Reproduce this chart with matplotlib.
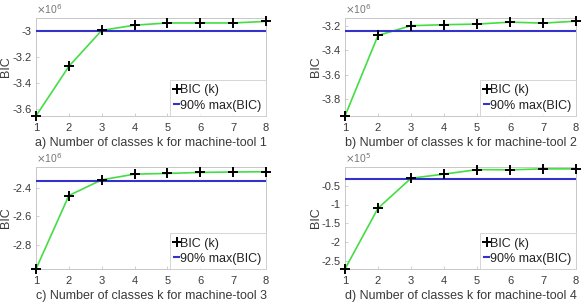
import matplotlib
matplotlib.use("Agg")
import matplotlib.pyplot as plt
from matplotlib.ticker import FuncFormatter
import numpy as np

plt.rcParams['font.family'] = ['Liberation Sans', 'DejaVu Sans']

k = [1, 2, 3, 4, 5, 6, 7, 8]
bic_1 = [-3.65e6, -3.27e6, -2.995e6, -2.955e6, -2.938e6, -2.938e6, -2.938e6, -2.926e6]
bic_2 = [-3.937e6, -3.277e6, -3.197e6, -3.189e6, -3.184e6, -3.168e6, -3.176e6, -3.160e6]
bic_3 = [-2.97e6, -2.455e6, -2.345e6, -2.305e6, -2.300e6, -2.293e6, -2.290e6, -2.288e6]
bic_4 = [-2.72e5, -1.10e5, -0.30e5, -0.19e5, -0.07e5, -0.075e5, -0.05e5, -0.05e5]
series = [bic_1, bic_2, bic_3, bic_4]
scales = [1e6, 1e6, 1e6, 1e5]
exponents = ['6', '6', '6', '5']
yticks = [[-3.6, -3.4, -3.2, -3.0], [-3.8, -3.6, -3.4, -3.2],
          [-2.8, -2.6, -2.4], [-2.5, -2.0, -1.5, -1.0, -0.5]]
ytop = [-2.90, -3.134, -2.255, 0.0]
titles = ['a) Number of classes k for machine-tool 1',
          'b) Number of classes k for machine-tool 2',
          'c) Number of classes k for machine-tool 3',
          'd) Number of classes k for machine-tool 4']
legend_labels = ['BIC (k)', '90% max(BIC)']

W, H = 581, 304
fig = plt.figure(figsize=(W / 100, H / 100), dpi=100)

# axes boxes in pixels: left, top, right, bottom
boxes = [(36, 18, 266, 116), (345, 18, 576, 116),
         (36, 167, 266, 269), (345, 167, 576, 269)]

txt_col = '#3a3a3a'
spine_col = '#c8c8c8'

for i in range(4):
    l, t, r, b = boxes[i]
    ax = fig.add_axes([l / W, 1 - b / H, (r - l) / W, (b - t) / H])
    vals = np.array(series[i])
    thr = vals.min() + 0.9 * (vals.max() - vals.min())
    ax.plot(k, vals, color='#44dd44', lw=1.2, zorder=2)
    ax.plot(k, vals, linestyle='none', marker='+', color='black',
            markersize=7, markeredgewidth=1.4, zorder=4, label=legend_labels[0],
            clip_on=False)
    ax.axhline(thr, color='#3333cc', lw=1.5, zorder=3, label=legend_labels[1])
    sc = scales[i]
    ax.set_xlim(1, 8)
    ax.set_ylim(vals.min(), ytop[i] * sc)
    ax.set_xticks(k)
    ax.set_yticks(np.array(yticks[i]) * sc)
    ax.yaxis.set_major_formatter(FuncFormatter(lambda v, p, s=sc: ('%g' % round(v / s, 3))))
    ax.tick_params(direction='in', length=2.5, width=0.6, colors=spine_col,
                   labelcolor=txt_col, labelsize=8, pad=3)
    ax.tick_params(axis='x', pad=5)
    for sp in ax.spines.values():
        sp.set_color(spine_col)
        sp.set_linewidth(0.7)
    ax.set_xlabel(titles[i], fontsize=9, color=txt_col, labelpad=3)
    ax.set_ylabel('BIC', fontsize=9, color=txt_col)
    ax.yaxis.set_label_coords(-23.5 / (r - l), 0.5)
    ax.text(0.0, 1.02, r'$\times$10$^{%s}$' % exponents[i], transform=ax.transAxes,
            fontsize=7.5, color='#777777', ha='left', va='bottom')
    leg = ax.legend(loc='lower right', fontsize=9, handlelength=0.4, handletextpad=0.1,
                    borderpad=0.35, labelspacing=0.25, frameon=True, fancybox=False,
                    borderaxespad=0.0)
    leg.get_frame().set_edgecolor('#cccccc')
    leg.get_frame().set_linewidth(0.7)
    for tx in leg.get_texts():
        tx.set_color('#222222')

fig.savefig('out.png', dpi=100)
